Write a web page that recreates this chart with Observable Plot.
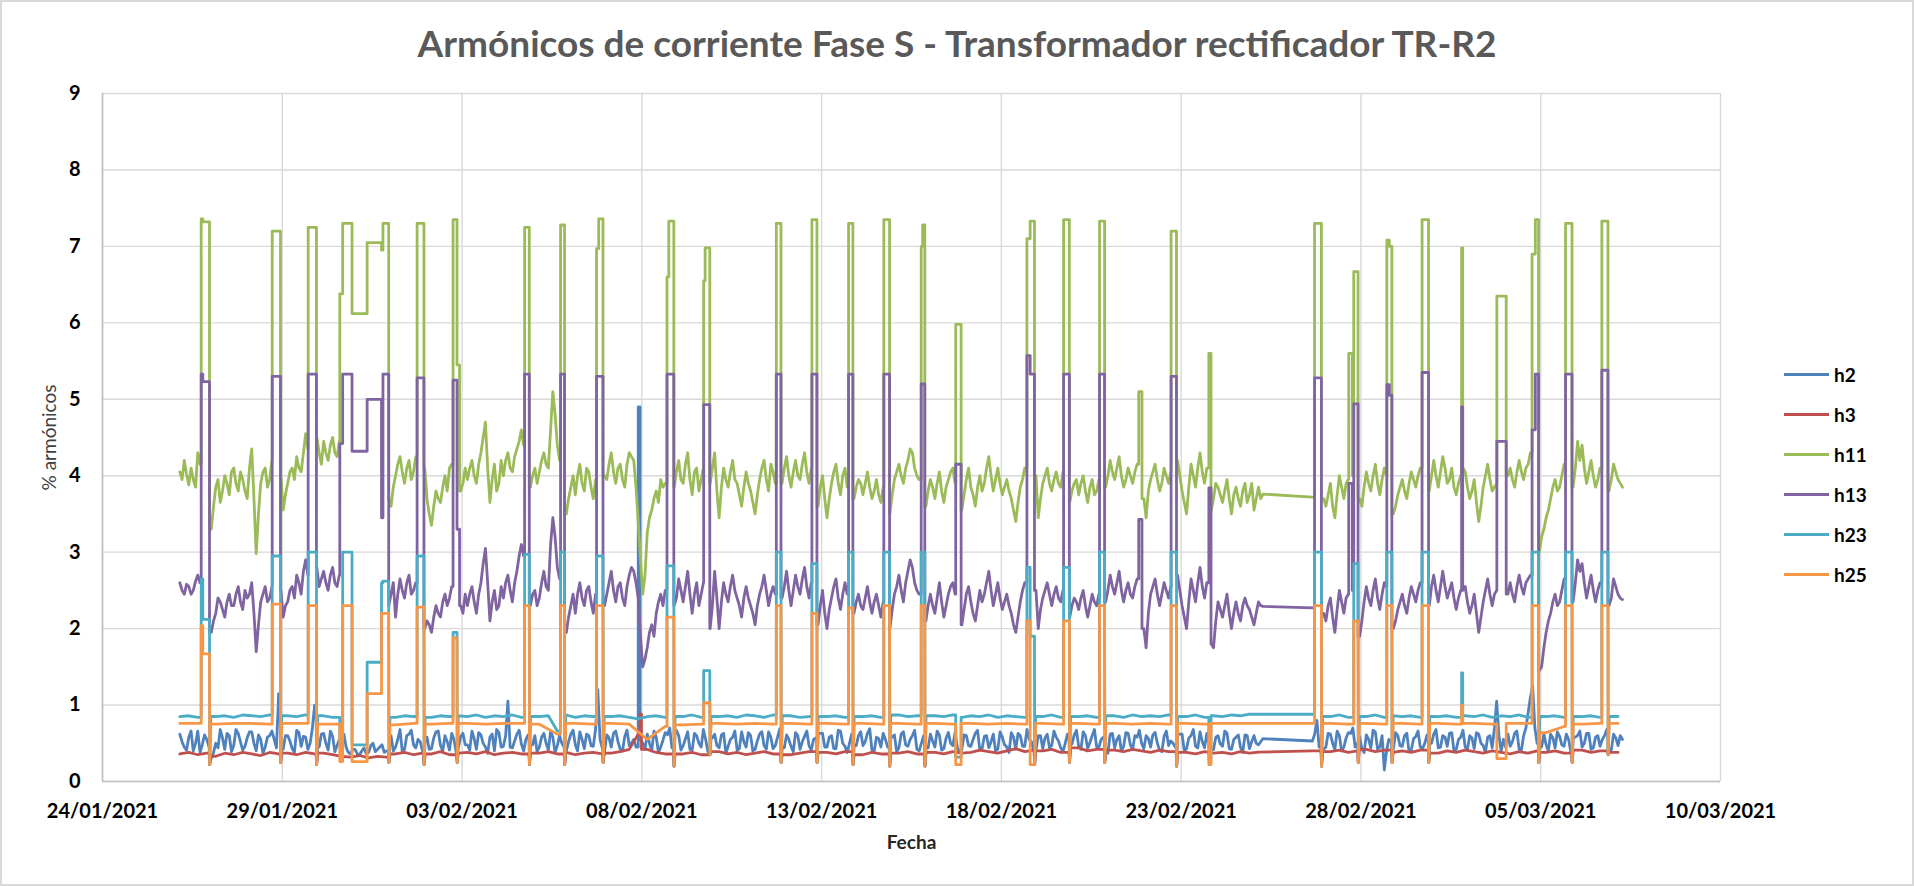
<!DOCTYPE html>
<html><head><meta charset="utf-8">
<script src="https://cdn.jsdelivr.net/npm/d3@7"></script>
<script src="https://cdn.jsdelivr.net/npm/@observablehq/plot@0.6"></script>
<style>
body{margin:0;background:#fff;}
#chart{position:relative;width:1914px;height:886px;overflow:hidden;font-family:Lato,"Open Sans",sans-serif;background:#fff;}
#frame{position:absolute;left:0;top:0;right:0;bottom:0;border:2px solid #d9d9d9;pointer-events:none;}
#title{height:80px;box-sizing:border-box;padding-top:23px;text-align:center;font-size:37px;line-height:40px;font-weight:bold;color:#595959;}
#legend{position:absolute;left:1784px;top:354px;}
.lrow{height:40px;display:flex;align-items:center;}
.lline{width:45px;height:3px;}
.ltext{margin-left:5px;font-size:19px;font-weight:bold;color:#000;}
g[aria-label="x-axis tick label"] text, g[aria-label="y-axis tick label"] text{font-weight:bold;fill:#000;}
</style></head><body>
<div id="chart">
<div id="title">Armónicos de corriente Fase S - Transformador rectificador TR-R2</div>
<div id="plot"></div>
<div id="legend"></div>
<div id="frame"></div>
</div>
<script>
// ---- series keys & colours
const seriesKeys = ["h2","h3","h11","h13","h23","h25"];
const seriesColors = ["#4F81BD","#C0504D","#9BBB59","#8064A2","#4BACC6","#F79646"];
const xTickLabels = ["24/01/2021","29/01/2021","03/02/2021","08/02/2021","13/02/2021","18/02/2021","23/02/2021","28/02/2021","05/03/2021","10/03/2021"];
const yTicks = [0,1,2,3,4,5,6,7,8,9];

// time = days after 24/01/2021 00:00; samples start at day 2.15
const startDay = 2.15;
const fineStep = 0.125;   // h2, h11, h13 (with a mid sample in between each pair)
const midStep = 0.25;     // h3, h23
const coarseStep = 0.5;   // h25

const h11Base = [
4.05,4.2,3.88,3.95,4.3,4.0,4.0,3.3,
3.85,3.65,4.0,3.75,4.1,3.8,3.95,3.7,
4.35,2.98,3.9,4.1,3.95,4.0,4.0,3.55,
3.9,4.1,4.25,4.05,4.55,4.5,4.5,4.3,
4.45,4.2,4.5,4.25,4.3,4.3,4.3,4.3,
4.3,4.3,4.3,4.3,4.3,4.3,4.3,3.6,
4.0,4.25,3.9,4.2,4.05,4.1,4.1,3.7,
3.35,3.8,3.65,4.0,4.1,4.1,4.1,3.9,
3.95,4.2,3.9,4.3,4.7,3.65,4.15,3.9,
4.0,4.3,4.05,4.35,4.6,4.5,3.85,4.1,
4.05,4.3,4.1,5.1,4.4,4.4,3.5,3.85,
3.75,4.15,3.8,4.05,3.7,4.0,4.0,3.95,
4.3,3.9,4.15,3.85,4.3,4.2,3.4,2.45,
3.25,3.55,3.8,3.95,3.9,4.0,3.85,4.2,
3.9,4.3,3.75,4.1,3.95,4.0,3.9,4.3,
3.45,4.1,3.85,4.2,3.9,3.6,4.05,3.8,
3.5,3.95,4.2,3.8,4.05,4.0,3.9,4.25,
3.85,4.2,3.95,4.3,3.9,4.0,3.6,4.0,
3.45,3.9,4.15,3.75,4.1,4.0,3.7,3.95,
3.75,4.05,3.7,3.95,3.65,4.0,3.5,3.95,
4.15,3.9,4.2,4.3,4.0,4.0,3.6,3.95,
3.7,4.05,3.65,3.95,4.1,4.0,3.55,3.95,
3.85,3.6,4.0,3.9,4.25,3.8,4.1,3.75,
3.95,3.7,3.4,3.85,4.1,4.0,4.0,3.45,
3.9,4.1,3.8,4.05,3.85,4.0,3.65,3.9,
3.75,4.0,3.65,3.95,3.8,4.0,3.85,4.2,
3.95,4.25,3.85,4.1,3.9,4.15,4.0,3.45,
3.95,4.15,3.8,4.1,3.9,4.0,4.2,3.8,
3.5,4.15,3.85,4.3,3.9,4.0,3.7,3.85,
3.65,3.95,3.5,3.85,3.6,3.9,3.75,3.55,
3.85,3.76,null,null,null,null,null,null,
null,null,null,null,3.72,4.0,4.0,3.6,
3.9,3.45,4.0,3.7,3.95,4.0,4.0,3.6,
4.05,3.8,4.15,3.75,4.1,4.0,3.5,3.75,
3.95,3.7,4.05,3.85,4.1,4.0,3.8,4.2,
3.85,4.25,3.9,4.1,3.75,4.0,4.05,3.7,
3.95,3.4,3.85,4.15,3.8,3.9,4.0,4.0,
4.1,3.85,4.2,3.95,4.15,4.0,4.0,3.2,
3.45,3.7,3.95,3.85,4.15,4.0,3.85,4.45,
4.4,3.9,4.2,3.85,4.1,4.0,3.8,4.15,
3.95,3.85];
const h11Mid = [
3.95,4.02,4.1,3.85,4.15,4.0,4.0,3.6,
3.95,3.8,3.9,4.05,3.9,4.05,3.8,4.1,
3.7,3.5,4.05,3.85,4.2,4.0,4.0,3.75,
4.05,3.95,4.1,4.3,4.35,4.5,4.5,4.15,
4.3,4.4,4.3,4.45,4.3,4.3,4.3,4.3,
4.3,4.3,4.3,4.3,4.3,4.3,3.7,3.85,
4.15,4.05,4.1,3.95,4.25,4.1,4.1,3.5,
3.6,3.7,3.85,3.8,4.15,4.1,3.8,4.1,
4.1,4.0,4.15,4.5,4.1,3.95,3.8,4.2,
4.2,4.1,4.25,4.45,4.4,4.5,4.0,3.9,
4.2,4.15,4.6,4.8,4.2,4.4,3.7,4.0,
4.0,3.9,4.1,3.85,3.95,4.0,4.0,4.15,
4.05,4.1,3.95,4.15,4.25,3.85,2.9,2.7,
3.45,3.7,3.65,3.85,3.95,4.0,4.05,3.95,
4.15,3.95,4.05,3.8,4.1,4.0,4.1,3.8,
3.85,3.95,4.05,3.95,3.75,3.85,3.9,3.65,
3.75,4.1,3.95,4.15,3.9,4.0,4.1,4.0,
4.05,4.0,4.15,4.05,4.1,4.0,3.85,3.7,
3.7,4.05,3.9,4.0,3.85,4.0,3.85,3.9,
3.9,3.85,3.8,3.75,3.85,4.0,3.75,4.05,
4.0,4.1,4.35,4.1,3.95,4.0,3.8,3.85,
3.9,3.8,3.85,4.05,3.9,4.0,3.75,4.1,
3.75,3.85,3.8,4.1,4.0,3.95,3.9,3.85,
3.8,3.55,3.65,3.95,3.95,4.0,4.0,3.7,
4.0,3.9,3.95,3.9,4.05,4.0,3.8,3.95,
3.9,3.8,3.85,3.75,3.95,4.0,4.0,4.05,
4.1,4.0,3.95,4.0,4.05,4.05,3.7,3.8,
4.05,3.95,3.9,4.0,4.05,4.0,4.0,3.65,
3.85,4.0,4.1,4.05,4.1,3.55,3.9,3.75,
3.8,3.7,3.75,3.7,3.8,3.65,3.9,3.7,
3.7,null,null,null,null,null,null,null,
null,null,null,null,4.0,4.0,3.7,3.75,
3.6,3.75,3.85,3.9,3.75,4.0,3.7,3.85,
3.9,4.0,3.9,3.95,4.0,4.0,3.6,3.85,
3.8,3.9,3.95,4.0,3.95,4.0,4.0,4.0,
4.05,4.1,3.95,3.85,3.9,4.1,3.85,3.8,
3.65,3.6,4.0,3.95,3.85,4.0,4.0,4.0,
3.95,4.05,4.05,4.1,4.3,4.0,3.0,3.3,
3.55,3.85,3.8,4.0,4.05,4.0,4.1,4.2,
4.1,4.05,4.0,3.95,4.1,4.0,3.95,4.05,
3.9];

const h13Base = [
2.6,2.45,2.55,2.5,2.7,2.5,2.5,1.95,
2.2,2.35,2.15,2.45,2.3,2.55,2.25,2.4,
2.6,1.7,2.35,2.55,2.4,2.5,2.5,2.15,
2.35,2.55,2.7,2.45,2.9,2.8,2.8,2.55,
2.75,2.5,2.8,2.55,2.6,2.6,2.6,2.6,
2.6,2.6,2.6,2.6,2.6,2.6,2.6,2.45,
2.15,2.65,2.4,2.7,2.5,2.5,2.5,2.1,
1.95,2.3,2.15,2.45,2.4,2.5,2.5,2.2,
2.3,2.55,2.2,2.6,3.05,2.1,2.5,2.3,
2.4,2.7,2.35,2.75,3.1,2.9,2.3,2.5,
2.4,2.75,2.5,3.45,2.8,2.8,1.95,2.3,
2.2,2.6,2.3,2.55,2.2,2.5,2.5,2.45,
2.75,2.35,2.6,2.3,2.7,2.75,2.4,1.5,
1.75,2.05,2.2,2.45,2.5,2.5,2.3,2.65,
2.35,2.75,2.2,2.6,2.45,2.5,2.0,2.75,
2.0,2.6,2.35,2.7,2.4,2.15,2.55,2.3,
2.05,2.45,2.7,2.3,2.55,2.5,2.4,2.75,
2.3,2.7,2.45,2.8,2.4,2.5,2.05,2.5,
2.0,2.4,2.65,2.25,2.6,2.5,2.2,2.45,
2.25,2.55,2.2,2.45,2.15,2.5,2.0,2.45,
2.7,2.35,2.75,2.8,2.5,2.5,2.1,2.45,
2.2,2.6,2.15,2.45,2.6,2.5,2.05,2.45,
2.35,2.1,2.5,2.45,2.75,2.3,2.6,2.25,
2.45,2.2,1.95,2.35,2.6,2.5,2.5,2.0,
2.4,2.6,2.3,2.55,2.35,2.5,2.15,2.4,
2.25,2.5,2.15,2.45,2.3,2.5,2.35,2.7,
2.45,2.75,2.35,2.6,2.4,2.65,2.5,1.75,
2.45,2.65,2.3,2.6,2.4,2.5,2.7,2.3,
2.0,2.65,2.35,2.8,2.4,2.5,1.75,2.35,
2.15,2.45,2.0,2.35,2.1,2.4,2.25,2.05,
2.35,2.29,null,null,null,null,null,null,
null,null,null,null,2.27,2.5,2.5,2.1,
2.4,1.95,2.5,2.2,2.45,2.5,2.5,2.1,
2.55,2.3,2.65,2.25,2.6,2.5,2.0,2.25,
2.45,2.2,2.55,2.35,2.6,2.5,2.3,2.7,
2.35,2.75,2.4,2.6,2.25,2.5,2.55,2.2,
2.45,1.95,2.35,2.65,2.3,2.5,2.5,2.5,
2.6,2.35,2.7,2.45,2.65,2.5,2.5,1.5,
1.95,2.2,2.45,2.35,2.65,2.5,2.35,2.9,
2.85,2.4,2.7,2.35,2.6,2.5,2.3,2.65,
2.45,2.38];
const h13Mid = [
2.5,2.58,2.45,2.62,2.6,2.5,2.5,2.1,
2.4,2.25,2.35,2.3,2.45,2.35,2.5,2.45,
2.2,2.05,2.45,2.35,2.55,2.5,2.5,2.3,
2.5,2.4,2.6,2.75,2.7,2.8,2.8,2.65,
2.6,2.7,2.6,2.7,2.6,2.6,2.6,2.6,
2.6,2.6,2.6,2.6,2.6,2.6,2.3,2.6,
2.45,2.5,2.6,2.45,2.6,2.5,2.0,2.05,
2.15,2.2,2.35,2.3,2.55,2.5,2.3,2.45,
2.45,2.35,2.45,2.85,2.6,2.35,2.25,2.55,
2.6,2.5,2.6,2.95,2.95,2.9,2.45,2.3,
2.6,2.55,3.1,3.2,2.65,2.8,2.15,2.45,
2.45,2.4,2.5,2.35,2.45,2.5,2.3,2.6,
2.5,2.55,2.4,2.55,2.8,2.6,1.9,1.6,
1.95,1.9,2.35,2.3,2.6,2.5,2.4,2.5,
2.55,2.45,2.45,2.3,2.6,2.5,2.3,2.4,
2.35,2.45,2.55,2.5,2.3,2.4,2.4,2.2,
2.3,2.55,2.5,2.45,2.45,2.5,2.55,2.5,
2.5,2.55,2.65,2.55,2.6,2.5,2.3,2.2,
2.25,2.55,2.4,2.45,2.45,2.5,2.35,2.3,
2.4,2.35,2.35,2.3,2.35,2.5,2.25,2.55,
2.5,2.6,2.9,2.6,2.45,2.5,2.3,2.3,
2.4,2.35,2.3,2.55,2.45,2.5,2.25,2.55,
2.2,2.3,2.35,2.6,2.5,2.45,2.4,2.35,
2.3,2.05,2.15,2.5,2.55,2.5,2.5,2.25,
2.5,2.45,2.45,2.4,2.5,2.5,2.3,2.35,
2.4,2.3,2.3,2.35,2.45,2.5,2.5,2.55,
2.6,2.5,2.5,2.45,2.55,2.6,2.0,2.2,
2.55,2.45,2.45,2.5,2.55,2.5,2.5,2.15,
2.35,2.5,2.6,2.55,2.6,1.8,2.1,2.25,
2.3,2.2,2.2,2.2,2.3,2.3,2.15,2.2,
2.3,null,null,null,null,null,null,null,
null,null,null,null,2.5,2.5,2.2,2.3,
2.15,2.25,2.35,2.4,2.5,2.5,1.9,2.35,
2.4,2.5,2.4,2.45,2.55,2.5,2.1,2.35,
2.3,2.4,2.45,2.5,2.5,2.5,2.55,2.5,
2.55,2.55,2.5,2.4,2.4,2.5,2.35,2.3,
2.2,2.15,2.5,2.45,2.45,2.5,2.5,2.45,
2.45,2.55,2.55,2.6,2.7,2.5,1.45,1.75,
2.1,2.35,2.3,2.5,2.55,2.5,2.6,2.75,
2.6,2.55,2.5,2.5,2.55,2.5,2.4,2.55,
2.4];

const h2Base = [
0.62,0.45,0.58,0.4,0.66,0.48,0.55,0.3,
0.5,0.68,0.42,0.6,0.47,0.63,0.41,0.57,
0.65,0.4,0.55,0.45,0.6,0.55,1.15,0.42,
0.6,0.43,0.67,0.46,0.58,0.5,1.0,0.45,
0.63,0.41,0.59,0.47,0.38,0.45,0.36,0.42,
0.35,0.44,0.38,0.5,0.42,0.48,0.4,0.6,
0.45,0.68,0.42,0.62,0.48,0.55,0.4,0.58,
0.43,0.65,0.47,0.6,0.41,0.55,0.45,0.63,
0.48,0.66,0.42,0.61,0.45,0.58,0.4,0.64,
0.46,1.05,0.44,0.62,0.49,0.55,0.42,0.6,
0.45,0.63,0.41,0.58,0.47,0.5,0.4,0.62,
0.48,0.65,0.43,0.6,0.46,1.2,0.44,0.61,
0.45,0.66,0.42,0.59,0.47,0.55,0.6,0.5,
0.62,0.4,0.58,0.45,0.64,0.7,0.43,0.6,
0.47,0.65,0.41,0.6,0.45,0.55,0.38,0.62,
0.44,0.63,0.46,0.58,0.41,0.65,0.45,0.6,
0.42,0.62,0.47,0.65,0.43,0.58,0.4,0.61,
0.46,0.64,0.42,0.59,0.47,0.55,0.41,0.63,
0.45,0.6,0.43,0.66,0.46,0.5,0.42,0.6,
0.47,0.63,0.41,0.58,0.45,0.55,0.43,0.61,
0.44,0.65,0.46,0.6,0.42,0.5,0.4,0.62,
0.45,0.61,0.43,0.64,0.47,0.45,0.42,0.6,
0.46,0.63,0.41,0.59,0.44,0.62,0.42,0.58,
0.45,0.64,0.42,0.6,0.46,0.55,0.4,0.6,
0.43,0.62,0.47,0.58,0.44,0.5,0.42,0.61,
0.46,0.65,0.43,0.6,0.45,0.55,0.41,0.62,
0.44,0.6,0.46,0.63,0.42,0.58,0.5,0.6,
0.45,0.64,0.41,0.59,0.47,0.5,0.42,0.62,
0.43,0.6,0.46,0.65,0.44,0.5,0.42,0.6,
0.46,0.63,0.42,0.58,0.45,0.61,0.43,0.6,
0.48,0.56,null,null,null,null,null,null,
null,null,null,null,0.53,0.8,0.6,0.45,
0.62,0.42,0.6,0.45,0.64,0.7,0.5,0.43,
0.61,0.44,0.65,0.45,0.15,0.55,0.42,0.6,
0.46,0.63,0.41,0.59,0.45,0.5,0.43,0.62,
0.44,0.6,0.46,0.64,0.42,0.58,0.45,0.6,
0.43,0.62,0.47,0.58,0.44,1.05,0.4,0.45,
0.46,0.63,0.42,0.6,0.9,1.25,0.5,0.45,
0.48,0.62,0.44,0.59,0.46,0.55,0.43,0.6,
0.45,0.63,0.42,0.58,0.46,0.6,0.44,0.62,
0.47,0.55];
const h2Mid = [
0.52,0.41,0.66,0.5,0.38,0.61,0.45,0.38,
0.44,0.57,0.63,0.39,0.68,0.52,0.46,0.65,
0.5,0.61,0.37,0.58,0.66,0.44,0.62,0.6,
0.53,0.38,0.64,0.59,0.42,0.7,0.55,0.62,
0.5,0.66,0.39,0.55,0.62,0.38,0.42,0.36,
0.4,0.36,0.47,0.39,0.45,0.38,0.43,0.4,
0.55,0.39,0.6,0.67,0.44,0.52,0.64,0.42,
0.57,0.66,0.4,0.52,0.63,0.38,0.59,0.48,
0.41,0.56,0.64,0.5,0.37,0.62,0.68,0.45,
0.6,0.45,0.53,0.67,0.4,0.61,0.48,0.39,
0.58,0.5,0.66,0.38,0.6,0.45,0.52,0.67,
0.4,0.55,0.62,0.47,0.68,0.55,0.39,0.57,
0.63,0.52,0.4,0.67,0.5,0.45,0.55,0.42,
0.5,0.66,0.38,0.54,0.61,0.44,0.67,0.41,
0.56,0.42,0.63,0.5,0.68,0.39,0.57,0.47,
0.61,0.37,0.55,0.66,0.43,0.52,0.64,0.4,
0.53,0.65,0.42,0.58,0.47,0.69,0.44,0.55,
0.39,0.6,0.52,0.66,0.41,0.57,0.63,0.45,
0.58,0.43,0.67,0.5,0.38,0.62,0.47,0.65,
0.52,0.69,0.4,0.56,0.63,0.45,0.58,0.39,
0.62,0.48,0.55,0.67,0.4,0.6,0.44,0.53,
0.66,0.41,0.57,0.5,0.64,0.38,0.61,0.47,
0.55,0.67,0.43,0.6,0.52,0.4,0.65,0.48,
0.38,0.58,0.63,0.46,0.68,0.52,0.41,0.6,
0.57,0.44,0.66,0.53,0.39,0.62,0.49,0.67,
0.42,0.6,0.51,0.68,0.45,0.58,0.37,0.63,
0.55,0.4,0.64,0.48,0.6,0.67,0.43,0.56,
0.61,0.5,0.39,0.66,0.53,0.45,0.62,0.4,
0.57,0.68,0.44,0.52,0.63,0.41,0.58,0.49,
0.66,0.43,0.55,0.61,0.38,0.6,0.52,0.5,
0.52,null,null,null,null,null,null,null,
null,null,null,null,0.62,0.45,0.42,0.63,
0.5,0.66,0.4,0.57,0.63,0.45,0.59,0.38,
0.55,0.67,0.42,0.6,0.4,0.52,0.64,0.47,
0.6,0.39,0.56,0.66,0.43,0.61,0.5,0.68,
0.45,0.58,0.63,0.4,0.55,0.67,0.42,0.57,
0.64,0.5,0.38,0.6,0.7,0.6,0.55,0.62,
0.52,0.66,0.41,0.7,1.1,0.7,0.45,0.62,
0.4,0.57,0.65,0.48,0.62,0.39,0.58,0.66,
0.5,0.63,0.44,0.6,0.55,0.68,0.41,0.57,
0.6];

const h3Base = [
0.36,0.38,0.35,0.37,0.33,0.37,0.35,0.38,
0.36,0.34,0.38,0.36,0.37,0.35,0.38,0.36,
0.37,0.35,0.33,0.32,0.34,0.31,0.33,0.32,
0.36,0.38,0.35,0.37,0.36,0.39,0.35,0.37,
0.38,0.36,0.39,0.35,0.37,0.38,0.36,0.38,
0.37,0.39,0.36,0.38,0.35,0.37,0.38,0.36,
0.37,0.39,0.42,0.62,0.42,0.38,0.36,0.37,
0.36,0.38,0.35,0.37,0.39,0.36,0.38,0.35,
0.37,0.39,0.36,0.38,0.35,0.37,0.39,0.36,
0.38,0.36,0.39,0.37,0.35,0.38,0.36,0.38,
0.37,0.39,0.36,0.4,0.38,0.36,0.39,0.37,
0.38,0.41,0.39,0.37,0.4,0.43,0.39,0.41,
0.4,0.42,0.38,0.41,0.44,0.4,0.42,0.39,
0.41,0.39,0.42,0.4,0.38,0.41,0.39,0.4,
0.38,0.36,0.39,0.37,0.38,0.36,0.39,0.37,
0.385,null,null,null,null,null,0.4,0.38,
0.39,0.41,0.38,0.4,0.42,0.39,0.41,0.38,
0.4,0.38,0.41,0.39,0.37,0.4,0.38,0.41,
0.39,0.37,0.4,0.38,0.36,0.39,0.37,0.4,
0.38,0.4,0.37,0.39,0.41,0.38,0.4,0.37,
0.38];

const h23Base = [
0.85,0.86,0.84,0.87,0.85,0.86,0.84,0.87,
0.86,0.85,0.87,0.84,0.86,0.85,0.87,0.85,
0.86,0.84,0.85,0.85,0.85,0.85,0.85,0.85,
0.84,0.86,0.85,0.87,0.84,0.86,0.85,0.86,
0.85,0.87,0.84,0.86,0.85,0.87,0.84,0.86,
0.85,0.86,0.66,0.87,0.84,0.86,0.85,0.87,
0.85,0.86,0.84,0.82,0.85,0.86,0.84,0.86,
0.85,0.87,0.84,0.86,0.85,0.86,0.84,0.87,
0.86,0.84,0.87,0.85,0.86,0.84,0.85,0.87,
0.85,0.86,0.84,0.87,0.85,0.86,0.84,0.86,
0.87,0.85,0.86,0.84,0.86,0.85,0.87,0.84,
0.86,0.85,0.87,0.84,0.86,0.85,0.84,0.86,
0.85,0.87,0.84,0.86,0.85,0.86,0.84,0.87,
0.86,0.84,0.87,0.85,0.86,0.85,0.87,0.84,
0.85,0.87,0.84,0.86,0.85,0.87,0.86,0.88,
0.88,null,null,null,null,null,0.88,0.86,
0.85,0.87,0.84,0.86,0.85,0.87,0.84,0.86,
0.85,0.86,0.84,0.87,0.85,0.86,0.84,0.86,
0.85,0.87,0.84,0.86,0.85,0.87,0.84,0.86,
0.85,0.86,0.84,0.87,0.85,0.86,0.84,0.86,
0.85];

const h25Base = [
0.76,0.76,0.75,0.76,0.76,0.75,0.76,0.76,
0.75,0.76,0.76,0.76,0.74,0.76,0.75,0.76,
0.76,0.75,0.76,0.76,0.75,0.62,0.76,0.75,
0.76,0.75,0.55,0.72,0.74,0.75,0.76,0.75,
0.76,0.75,0.76,0.75,0.76,0.75,0.76,0.75,
0.76,0.75,0.76,0.75,0.76,0.75,0.76,0.75,
0.76,0.75,0.76,0.75,0.76,0.75,0.76,0.75,
0.76,0.75,0.76,0.76,0.76,null,null,0.76,
0.76,0.75,0.76,0.75,0.76,0.75,0.76,0.75,
0.76,0.75,0.76,0.76,0.64,0.72,0.75,0.76,
0.76];

// short events: [start, end, h2, h3, h11, h13, h23, h25, dip after end]
const events = [
[2.745,2.79,null,null,7.36,5.33,2.65,2.04,null],
[2.79,2.976,null,null,7.32,5.23,2.12,1.67,0.22],
[4.72,4.95,null,null,7.2,5.3,2.95,2.32,0.25],
[5.72,5.95,null,null,7.25,5.33,3.0,2.3,0.22],
[6.60,6.68,null,null,6.38,4.42,0.5,0.26,null],
[6.68,6.94,null,null,7.3,5.33,3.0,2.3,null],
[6.94,7.36,null,null,6.12,4.32,0.48,0.26,null],
[7.36,7.76,null,null,7.05,5.0,1.56,1.15,null],
[7.76,7.80,null,null,6.95,3.45,2.6,2.2,null],
[7.80,7.96,null,null,7.3,5.33,2.62,2.2,0.25],
[8.75,8.94,null,null,7.3,5.28,2.95,2.28,0.22],
[9.75,9.86,null,null,7.35,5.25,1.95,1.88,0.25],
[9.86,9.93,null,null,5.45,3.3,null,null,null],
[11.74,11.87,null,null,7.25,5.33,2.97,2.3,0.22],
[12.74,12.85,null,null,7.28,5.33,3.0,2.3,0.22],
[13.74,13.80,null,null,6.97,5.3,2.95,2.3,null],
[13.80,13.92,null,null,7.36,5.3,2.95,2.3,0.25],
[14.90,14.95,4.9,null,null,null,null,null,null],
[14.95,14.99,null,0.88,null,null,null,null,null],
[15.70,15.75,null,null,6.6,5.33,2.82,2.15,null],
[15.75,15.89,null,null,7.33,5.33,2.82,2.15,0.2],
[16.72,16.76,null,null,6.55,4.93,1.45,1.03,null],
[16.76,16.89,null,null,6.98,4.93,1.45,1.03,0.35],
[18.74,18.87,null,null,7.3,5.33,3.0,2.3,0.25],
[19.73,19.87,null,null,7.35,5.33,2.85,2.2,0.25],
[20.75,20.87,null,null,7.3,5.33,3.0,2.27,0.22],
[21.73,21.89,null,null,7.35,5.33,3.0,2.3,0.2],
[22.77,22.81,null,null,7.0,5.2,3.0,2.3,null],
[22.81,22.87,null,null,7.28,5.2,3.0,2.3,0.2],
[23.73,23.88,null,null,5.98,4.15,0.32,0.22,null],
[25.71,25.80,null,null,7.1,5.57,2.8,2.1,null],
[25.80,25.92,null,null,7.33,5.33,1.9,0.22,0.22],
[26.73,26.89,null,null,7.35,5.33,2.8,2.1,0.25],
[27.73,27.87,null,null,7.33,5.33,3.0,2.3,0.25],
[28.82,28.91,null,null,5.1,3.43,null,null,null],
[29.72,29.87,null,null,7.2,5.3,3.0,2.3,0.2],
[30.77,30.83,null,null,5.6,3.84,0.28,0.22,null],
[33.71,33.90,null,null,7.3,5.28,3.0,2.3,0.2],
[34.66,34.76,null,null,5.6,3.9,null,null,null],
[34.80,34.92,null,null,6.67,4.94,2.85,2.1,0.25],
[35.72,35.79,null,null,7.08,5.19,3.0,2.3,null],
[35.79,35.86,null,null,7.0,5.05,3.0,2.3,0.25],
[36.70,36.88,null,null,7.35,5.35,3.0,2.3,0.25],
[37.80,37.83,null,null,6.98,4.9,1.42,1.0,null],
[38.78,39.04,null,null,6.35,4.45,null,0.3,null],
[39.76,39.85,null,null,6.9,4.6,3.0,2.3,null],
[39.85,39.94,null,null,7.35,5.33,3.0,2.3,0.25],
[40.69,40.87,null,null,7.3,5.33,3.0,2.3,0.25],
[41.70,41.87,null,null,7.33,5.38,3.0,2.3,0.35]
];
const dipKeys = ["h2","h3","h23","h25"];

// ---- build tables
const DAY0 = Date.UTC(2021,0,24);
const toDate = d => new Date(DAY0 + d*864e5);
const sampled = (vals, step, offset=0) => vals.map((v,i)=>({d: startDay + offset + i*step, v}));
const fine = (base, mid) => sampled(base, fineStep).concat(sampled(mid, fineStep, fineStep/2))
  .filter(p=>p.v!=null).sort((a,b)=>a.d-b.d);
const coarse = (vals, step) => sampled(vals, step).filter(p=>p.v!=null);

function build(key, base){
  const col = 2 + seriesKeys.indexOf(key);
  const isDip = dipKeys.includes(key);
  const evs = events.filter(e => e[col]!=null || (isDip && e[8]!=null));
  const clear = evs.map(e => {
    const has = e[col]!=null;
    return [has ? e[0] : e[1]-0.01, (isDip && e[8]!=null) ? e[1]+0.035 : e[1]];
  });
  const kept = base.filter(p => !clear.some(([a,b]) => p.d >= a-1e-6 && p.d <= b+1e-6));
  const before = t => { let v=null; for (const p of kept){ if (p.d < t) v=p.v; else break; } return v; };
  const after = t => { for (const p of kept) if (p.d > t) return p.v; return null; };
  const pts = kept.slice();
  for (const e of evs){
    const has = e[col]!=null, dip = isDip ? e[8] : null;
    const adjPrev = evs.some(o => o!==e && o[col]!=null && Math.abs(o[1]-e[0])<1e-6);
    const adjNext = evs.some(o => o!==e && o[col]!=null && Math.abs(o[0]-e[1])<1e-6);
    if (has){
      if (!adjPrev) pts.push({d:e[0]-1e-4, v:before(e[0])});
      pts.push({d:e[0], v:e[col]}, {d:e[1], v:e[col]});
    } else {
      pts.push({d:e[1]-0.01, v:before(e[1]-0.01)});
    }
    if (dip!=null){
      pts.push({d:e[1]+0.005, v:dip}, {d:e[1]+0.035, v:after(e[1]+0.035)});
    } else if (has && !adjNext){
      pts.push({d:e[1]+1e-4, v:after(e[1])});
    }
  }
  return pts.filter(p=>p.v!=null).sort((a,b)=>a.d-b.d).map(p=>({t:toDate(p.d), v:p.v, s:key}));
}

const bases = {
  h2: fine(h2Base, h2Mid), h3: coarse(h3Base, midStep), h11: fine(h11Base, h11Mid),
  h13: fine(h13Base, h13Mid), h23: coarse(h23Base, midStep), h25: coarse(h25Base, coarseStep)
};
const rows = seriesKeys.flatMap(k => build(k, bases[k]));

const parseD = d3.utcParse("%d/%m/%Y");
const xTicks = xTickLabels.map(parseD);
const fmt = d3.utcFormat("%d/%m/%Y");

const chart = Plot.plot({
  width:1914, height:806,
  marginLeft:102, marginRight:194, marginTop:13, marginBottom:105,
  style:{fontFamily:"Lato, 'Open Sans', sans-serif", color:"#000", background:"transparent", overflow:"visible"},
  x:{type:"utc", domain:[xTicks[0], xTicks[xTicks.length-1]]},
  y:{domain:[0,9]},
  color:{domain:seriesKeys, range:seriesColors},
  marks:[
    Plot.gridY(yTicks, {stroke:"#d9d9d9", strokeOpacity:1, strokeWidth:1.4}),
    Plot.gridX(xTicks, {stroke:"#d9d9d9", strokeOpacity:1, strokeWidth:1.4}),
    Plot.ruleX([xTicks[0]], {stroke:"#bfbfbf", strokeWidth:1.6}),
    Plot.ruleY([0], {stroke:"#bfbfbf", strokeWidth:1.6}),
    Plot.line(rows, {x:"t", y:"v", z:"s", stroke:"s", strokeWidth:2.8, strokeLinejoin:"round"}),
    Plot.axisY(yTicks, {tickSize:0, tickPadding:22, fontSize:20, tickFormat:d=>String(d), label:null}),
    Plot.axisX(xTicks, {tickSize:0, tickPadding:22, fontSize:20, tickFormat:fmt, label:null}),
    Plot.text(["Fecha"], {frameAnchor:"bottom", dy:61, fontSize:19, fontWeight:"bold", fill:"#262626", lineAnchor:"middle"}),
    Plot.text(["% armónicos"], {frameAnchor:"left", dx:-53, rotate:-90, fontSize:19, fill:"#404040", textAnchor:"middle", lineAnchor:"middle"})
  ]
});
document.getElementById("plot").appendChild(chart);

const legend = document.getElementById("legend");
seriesKeys.forEach((k,i) => {
  const r = document.createElement("div"); r.className="lrow";
  const l = document.createElement("div"); l.className="lline"; l.style.background=seriesColors[i];
  const t = document.createElement("div"); t.className="ltext"; t.textContent=k;
  r.appendChild(l); r.appendChild(t); legend.appendChild(r);
});
</script>
</body></html>
